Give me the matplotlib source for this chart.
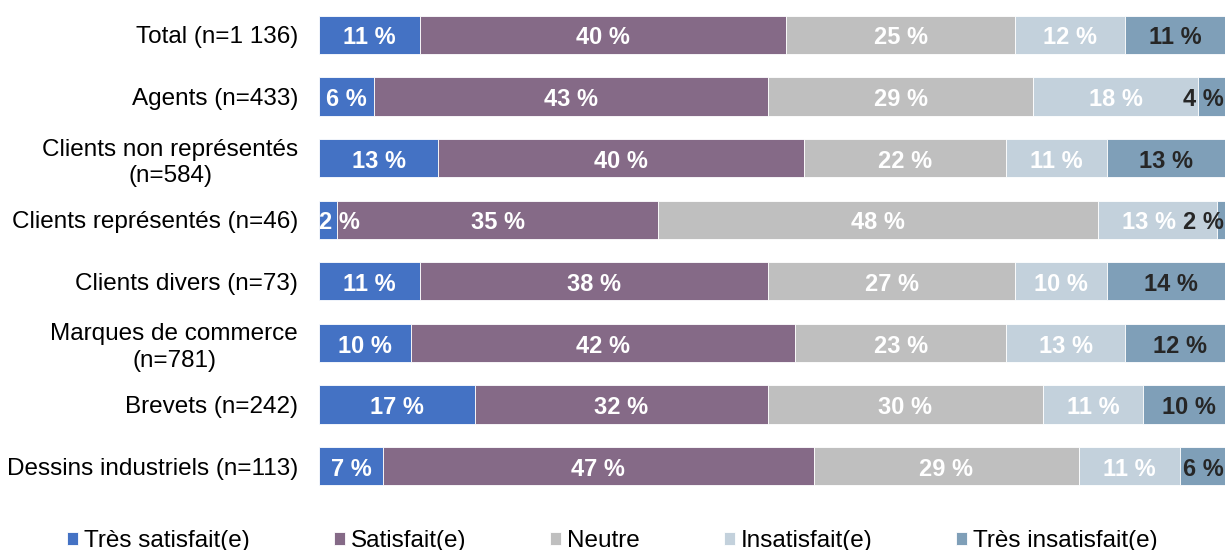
import matplotlib.pyplot as plt
import numpy as np

plt.rcParams['font.family'] = ['Liberation Sans', 'DejaVu Sans']

categories = [
    "Total (n=1 136)",
    "Agents (n=433)",
    "Clients non représentés\n(n=584)",
    "Clients représentés (n=46)",
    "Clients divers (n=73)",
    "Marques de commerce\n(n=781)",
    "Brevets (n=242)",
    "Dessins industriels (n=113)",
]
series_names = ["Très satisfait(e)", "Satisfait(e)", "Neutre", "Insatisfait(e)", "Très insatisfait(e)"]
tres_satisfait = [11, 6, 13, 2, 11, 10, 17, 7]
satisfait = [40, 43, 40, 35, 38, 42, 32, 47]
neutre = [25, 29, 22, 48, 27, 23, 30, 29]
insatisfait = [12, 18, 11, 13, 10, 13, 11, 11]
tres_insatisfait = [11, 4, 13, 2, 14, 12, 10, 6]

colors = ["#4472C4", "#856A87", "#BFBFBF", "#C3D1DC", "#7F9FB8"]
label_colors = ["white", "white", "white", "white", "#262626"]

fig = plt.figure(figsize=(12.25, 5.5), dpi=100)
ax = fig.add_axes([319 / 1225, 1 - 497 / 550, 916 / 1225, 493 / 550])

y = np.arange(len(categories))
left = np.zeros(len(categories))
all_series = [tres_satisfait, satisfait, neutre, insatisfait, tres_insatisfait]
texts = [[] for _ in categories]
for vals, name, col, lcol in zip(all_series, series_names, colors, label_colors):
    vals = np.array(vals, dtype=float)
    ax.barh(y, vals, left=left, height=0.62, color=col, edgecolor="white",
            linewidth=0.6, label=name)
    for i, v in enumerate(vals):
        t = ax.text(left[i] + v / 2, y[i] + 0.05, f"{int(v)} %", ha="center", va="center",
                    color=lcol, fontsize=17, fontweight="bold")
        texts[i].append(t)
    left += vals

ax.set_xlim(0, 100)
ax.set_ylim(len(categories) - 0.5, -0.5)
ax.set_yticks(y)
ax.set_yticklabels(categories, fontsize=17.5, multialignment="center", linespacing=1.25)
ax.tick_params(axis="y", length=0, pad=15)
ax.set_xticks([])
for s in ax.spines.values():
    s.set_visible(False)

# keep labels inside the visible area and avoid overlaps
fig.canvas.draw()
renderer = fig.canvas.get_renderer()
inv = ax.transData.inverted()
x_right_edge = inv.transform((fig.bbox.width - 1, 0))[0]
for row in texts:
    widths = []
    for t in row:
        bb = t.get_window_extent(renderer)
        widths.append(inv.transform((bb.x1, 0))[0] - inv.transform((bb.x0, 0))[0])
    xs = [t.get_position()[0] for t in row]
    xs[0] = max(xs[0], widths[0] / 2)
    xs[-1] = min(xs[-1], x_right_edge - widths[-1] / 2)
    for k in range(len(xs) - 2, -1, -1):
        limit = xs[k + 1] - widths[k + 1] / 2 - 0.8 - widths[k] / 2
        xs[k] = min(xs[k], limit)
    for k in range(1, len(xs)):
        limit = xs[k - 1] + widths[k - 1] / 2 + 0.8 + widths[k] / 2
        xs[k] = max(xs[k], limit)
    for t, xv in zip(row, xs):
        t.set_x(xv)

fig.legend(loc="center left", bbox_to_anchor=(67 / 1225, 9 / 550), ncol=5,
           frameon=False, fontsize=17.5, handlelength=0.45, handleheight=0.45,
           handletextpad=0.25, columnspacing=3.45, borderpad=0, borderaxespad=0)

fig.savefig("out.png", dpi=100)
